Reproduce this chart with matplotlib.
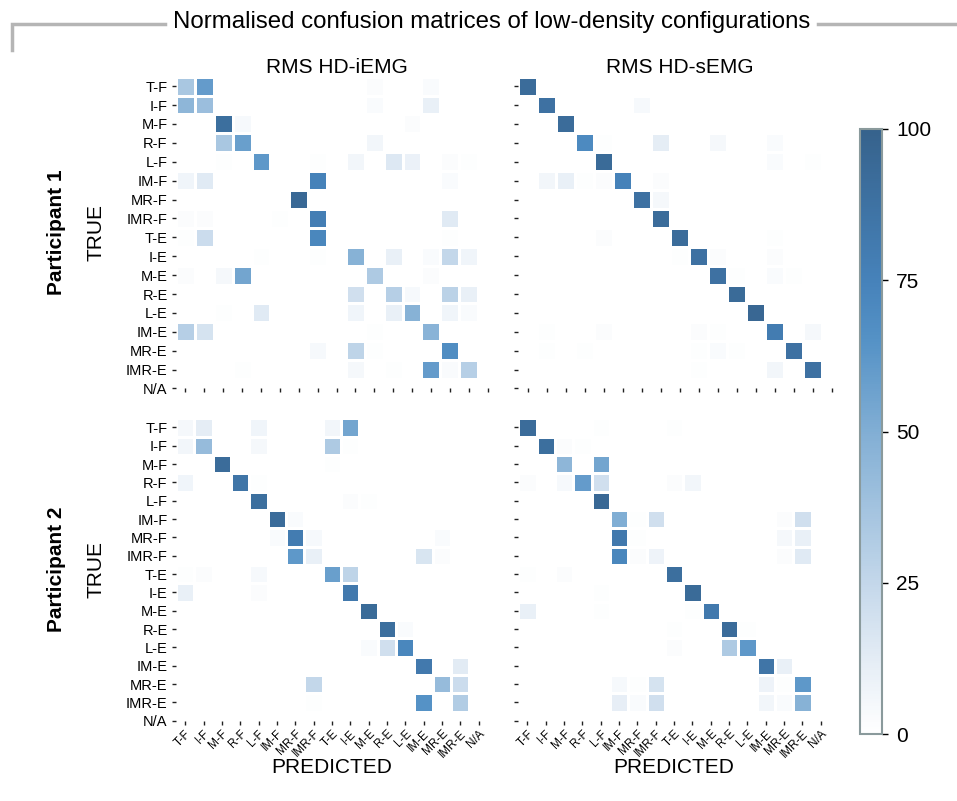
import matplotlib
matplotlib.use("Agg")
import numpy as np
import matplotlib.pyplot as plt
from matplotlib.colors import LinearSegmentedColormap
from matplotlib.lines import Line2D

plt.rcParams["font.family"] = ["Liberation Sans", "DejaVu Sans"]

labels = ["T-F", "I-F", "M-F", "R-F", "L-F", "IM-F", "MR-F", "IMR-F", "T-E",
          "I-E", "M-E", "R-E", "L-E", "IM-E", "MR-E", "IMR-E", "N/A"]

# rows = TRUE, cols = PREDICTED (percent)
p1_iemg = [
    [35, 60, 0, 0, 0, 0, 0, 0, 0, 0, 2, 0, 0, 3, 0, 0, 0],
    [45, 40, 0, 0, 0, 0, 0, 0, 0, 0, 3, 0, 0, 10, 0, 0, 0],
    [0, 0, 90, 4, 0, 0, 0, 0, 0, 0, 0, 0, 2, 0, 0, 0, 0],
    [0, 0, 35, 58, 0, 0, 0, 0, 0, 0, 6, 0, 0, 0, 0, 0, 0],
    [0, 0, 1, 0, 62, 0, 0, 1, 0, 6, 0, 15, 9, 0, 2, 1, 0],
    [7, 14, 0, 0, 0, 0, 0, 75, 0, 0, 0, 0, 0, 0, 3, 0, 0],
    [0, 0, 0, 0, 0, 0, 95, 0, 0, 0, 0, 0, 0, 0, 0, 0, 0],
    [2, 2, 0, 0, 0, 1, 0, 78, 0, 0, 0, 0, 0, 0, 14, 0, 0],
    [1, 22, 0, 0, 0, 0, 0, 72, 0, 0, 0, 0, 0, 0, 1, 0, 0],
    [0, 0, 0, 0, 1, 0, 0, 1, 0, 48, 0, 10, 0, 3, 25, 7, 0],
    [2, 0, 5, 55, 0, 0, 0, 0, 0, 0, 33, 0, 0, 2, 0, 0, 0],
    [0, 0, 0, 0, 0, 0, 0, 0, 0, 20, 0, 30, 4, 0, 28, 10, 0],
    [0, 0, 1, 0, 14, 0, 0, 0, 0, 7, 0, 10, 48, 0, 7, 3, 0],
    [30, 18, 0, 0, 0, 0, 0, 0, 0, 0, 1, 0, 0, 47, 0, 0, 0],
    [0, 0, 0, 0, 0, 0, 0, 4, 0, 27, 1, 0, 0, 0, 68, 0, 0],
    [0, 0, 0, 1, 0, 0, 0, 0, 0, 5, 0, 1, 0, 60, 3, 30, 0],
    [0, 0, 0, 0, 0, 0, 0, 0, 0, 0, 0, 0, 0, 0, 0, 0, 0],
]

p1_semg = [
    [92, 0, 0, 0, 0, 0, 0, 0, 0, 0, 0, 0, 0, 0, 0, 0, 0],
    [0, 88, 0, 0, 0, 0, 4, 0, 0, 0, 0, 0, 0, 0, 0, 0, 0],
    [0, 0, 92, 0, 0, 0, 0, 0, 0, 0, 0, 0, 0, 0, 0, 0, 0],
    [0, 0, 0, 70, 1, 0, 0, 12, 0, 0, 5, 0, 0, 3, 0, 0, 0],
    [0, 0, 0, 0, 93, 0, 0, 0, 0, 0, 0, 0, 0, 3, 0, 1, 0],
    [0, 6, 10, 1, 2, 75, 0, 2, 0, 0, 0, 0, 0, 0, 0, 0, 0],
    [0, 0, 0, 0, 0, 0, 88, 5, 0, 0, 0, 0, 0, 0, 0, 0, 0],
    [0, 0, 0, 0, 0, 0, 0, 92, 0, 0, 0, 0, 0, 0, 0, 0, 0],
    [0, 0, 0, 0, 2, 0, 0, 0, 92, 0, 0, 0, 0, 1, 0, 0, 0],
    [0, 0, 0, 0, 0, 0, 0, 0, 1, 88, 2, 0, 0, 2, 0, 0, 0],
    [0, 0, 0, 0, 0, 0, 0, 0, 0, 0, 88, 1, 0, 3, 1, 0, 0],
    [0, 0, 0, 0, 0, 0, 0, 0, 0, 0, 0, 93, 0, 0, 0, 0, 0],
    [0, 0, 0, 0, 0, 0, 0, 0, 0, 0, 0, 0, 96, 0, 0, 0, 0],
    [0, 1, 0, 0, 2, 0, 0, 0, 0, 2, 1, 0, 0, 80, 0, 5, 0],
    [0, 1, 0, 1, 0, 0, 0, 0, 0, 1, 3, 1, 0, 0, 88, 0, 0],
    [0, 0, 0, 0, 0, 0, 0, 0, 0, 1, 0, 0, 0, 6, 0, 88, 0],
    [0, 0, 0, 0, 0, 0, 0, 0, 0, 0, 0, 0, 0, 0, 0, 0, 0],
]

p2_iemg = [
    [5, 12, 0, 0, 7, 0, 0, 0, 6, 55, 0, 0, 0, 0, 0, 0, 0],
    [6, 42, 0, 0, 5, 0, 0, 0, 33, 1, 0, 0, 0, 0, 0, 0, 0],
    [0, 0, 92, 0, 0, 0, 0, 0, 1, 0, 0, 0, 0, 0, 0, 0, 0],
    [7, 0, 0, 85, 1, 0, 0, 0, 0, 0, 0, 0, 0, 0, 0, 0, 0],
    [0, 0, 0, 0, 90, 0, 0, 0, 0, 2, 1, 0, 0, 0, 0, 0, 0],
    [0, 0, 0, 0, 0, 92, 3, 0, 0, 0, 0, 0, 0, 0, 0, 0, 0],
    [0, 0, 0, 0, 0, 3, 80, 4, 0, 0, 0, 0, 0, 0, 3, 0, 0],
    [0, 0, 0, 0, 0, 0, 62, 10, 0, 0, 0, 0, 0, 17, 2, 0, 0],
    [1, 2, 0, 0, 4, 0, 0, 0, 58, 27, 0, 0, 0, 0, 0, 0, 0],
    [10, 0, 0, 0, 2, 0, 0, 0, 0, 82, 0, 0, 0, 0, 0, 0, 0],
    [0, 0, 0, 0, 0, 0, 0, 0, 0, 0, 93, 0, 0, 0, 0, 0, 0],
    [0, 0, 0, 0, 0, 0, 0, 0, 0, 0, 0, 90, 3, 0, 0, 0, 0],
    [0, 0, 0, 0, 0, 0, 0, 0, 0, 0, 3, 20, 72, 0, 0, 0, 0],
    [0, 0, 0, 0, 0, 0, 0, 0, 0, 0, 0, 0, 0, 82, 0, 13, 0],
    [0, 0, 0, 0, 0, 0, 0, 25, 0, 0, 0, 0, 0, 0, 42, 22, 0],
    [0, 0, 0, 0, 0, 0, 0, 1, 0, 0, 0, 0, 0, 65, 0, 32, 0],
    [0, 0, 0, 0, 0, 0, 0, 0, 0, 0, 0, 0, 0, 0, 0, 0, 0],
]

p2_semg = [
    [92, 0, 0, 0, 1, 0, 0, 0, 1, 0, 0, 0, 0, 0, 0, 0, 0],
    [0, 90, 2, 1, 0, 0, 0, 0, 0, 0, 0, 0, 0, 0, 0, 0, 0],
    [0, 0, 45, 0, 55, 0, 0, 0, 0, 0, 0, 0, 0, 0, 0, 0, 0],
    [2, 0, 4, 60, 20, 0, 0, 0, 2, 6, 0, 0, 0, 0, 0, 0, 0],
    [0, 0, 0, 0, 95, 0, 0, 0, 0, 0, 0, 0, 0, 0, 0, 0, 0],
    [0, 0, 0, 0, 0, 50, 1, 20, 0, 0, 0, 0, 0, 0, 2, 20, 0],
    [0, 0, 0, 0, 0, 82, 1, 0, 0, 0, 0, 0, 0, 0, 5, 10, 0],
    [0, 0, 0, 0, 0, 72, 2, 8, 0, 0, 0, 0, 0, 0, 2, 14, 0],
    [1, 0, 2, 0, 0, 0, 0, 0, 90, 0, 0, 0, 0, 0, 0, 0, 0],
    [0, 0, 0, 0, 1, 0, 0, 0, 0, 93, 0, 0, 0, 0, 0, 0, 0],
    [10, 0, 0, 0, 1, 0, 0, 0, 0, 1, 82, 0, 0, 0, 0, 0, 0],
    [0, 0, 0, 0, 0, 0, 0, 0, 1, 0, 0, 92, 1, 0, 0, 0, 0],
    [0, 0, 0, 0, 0, 0, 0, 0, 2, 0, 0, 33, 62, 0, 0, 0, 0],
    [0, 0, 0, 0, 0, 0, 0, 0, 0, 0, 0, 0, 0, 85, 10, 0, 0],
    [0, 0, 0, 0, 0, 4, 1, 18, 0, 0, 0, 0, 0, 8, 1, 62, 0],
    [0, 0, 0, 0, 0, 11, 3, 20, 0, 0, 0, 0, 0, 6, 3, 48, 0],
    [0, 0, 0, 0, 0, 0, 0, 0, 0, 0, 0, 0, 0, 0, 0, 0, 0],
]

col_titles = ["RMS HD-iEMG", "RMS HD-sEMG"]
row_titles = ["Participant 1", "Participant 2"]

cmap = LinearSegmentedColormap.from_list("cm", [
    (0.0, "#ffffff"), (0.1, "#e9f0f7"), (0.25, "#c3d7ea"), (0.5, "#81aed4"),
    (0.65, "#5592c6"), (0.75, "#4682ba"), (1.0, "#36628c")])

W, H = 957, 801
fig = plt.figure(figsize=(W / 100, H / 100), dpi=100)


def px_axes(left, top, right, bottom):
    return fig.add_axes([left / W, 1 - bottom / H, (right - left) / W, (bottom - top) / H])


boxes = [[(176, 76.7, 497, 388.5), (518.3, 76.7, 841, 388.5)],
         [(176, 418.3, 487.7, 720.8), (518.3, 418.3, 830, 720.8)]]
mats = [[p1_iemg, p1_semg], [p2_iemg, p2_semg]]

n = len(labels)
for r in range(2):
    for c in range(2):
        ax = px_axes(*boxes[r][c])
        data = np.array(mats[r][c], dtype=float)
        mesh = ax.pcolormesh(np.arange(n + 1), np.arange(n + 1), data, cmap=cmap,
                             vmin=0, vmax=100, edgecolors="white", linewidth=0.8)
        ax.set_xlim(0, n)
        ax.set_ylim(n - 0.5, 0)
        ax.set_xticks(np.arange(n) + 0.5)
        ax.set_yticks(np.arange(n) + 0.5)
        if c == 0:
            ax.set_yticklabels(labels, fontsize=10.5)
        else:
            ax.set_yticklabels([])
        if r == 1:
            ax.set_xticklabels(labels, fontsize=8.5, rotation=45, ha="right",
                               rotation_mode="anchor")
        else:
            ax.set_xticklabels([])
        ax.tick_params(length=3, width=1, color="#222222", pad=3)
        ax.tick_params(axis="x", pad=2)
        for s in ax.spines.values():
            s.set_visible(False)
        if r == 0:
            ax.set_title(col_titles[c], fontsize=15, pad=1)
        if r == 1:
            ax.set_xlabel("PREDICTED", fontsize=15, labelpad=-1)
        if c == 0:
            ax.set_ylabel("TRUE", fontsize=15, labelpad=15)
            yc = 1 - (boxes[r][c][1] + boxes[r][c][3]) / 2 / H
            fig.text(57 / W, yc, row_titles[r], rotation=90, fontsize=15,
                     fontweight="bold", ha="center", va="center")

cax = px_axes(860, 129, 882, 734)
cb = fig.colorbar(mesh, cax=cax, ticks=[0, 25, 50, 75, 100])
cb.outline.set_edgecolor("#8a9a9c")
cb.outline.set_linewidth(1.5)
cb.ax.tick_params(labelsize=15, length=4, width=1, pad=6)

fig.text(492 / W, 1 - 22 / H, "Normalised confusion matrices of low-density configurations",
         fontsize=17.3, ha="center", va="center")
gray = "#b5b5b5"
fig.add_artist(Line2D([12 / W, 12 / W, 165 / W], [1 - 50 / H, 1 - 24 / H, 1 - 24 / H],
                      color=gray, lw=2.5, solid_joinstyle="miter"))
fig.add_artist(Line2D([818 / W, 1.0], [1 - 24 / H, 1 - 24 / H], color=gray, lw=2.5))

fig.savefig("out.png", dpi=100)
